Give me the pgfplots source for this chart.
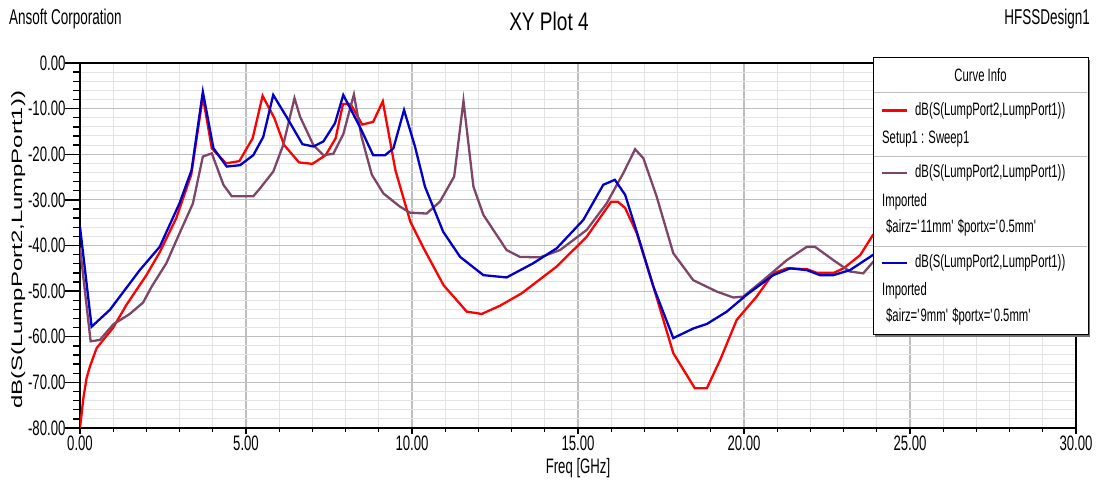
\documentclass[border=0pt]{standalone}
\usepackage{fontspec}
\setmainfont{Liberation Sans}[FakeStretch=0.63]
\newfontfamily\titlefont{Liberation Sans}[FakeStretch=0.75]
\newfontfamily\plainfont{Liberation Sans}
\usepackage{graphicx}
\usepackage{pgfplots}
\pgfplotsset{compat=1.18}
\definecolor{hfssred}{RGB}{255,0,0}
\definecolor{hfssblue}{RGB}{0,0,200}
\definecolor{hfssmauve}{RGB}{125,70,105}
\definecolor{majgrid}{RGB}{190,190,190}
\definecolor{mingrid}{RGB}{228,228,228}
\pgfplotsset{hfssframe/.style={
  at={(80bp,55bp)}, anchor=south west,
  scale only axis, width=996bp, height=365bp,
  xmin=0, xmax=30, ymin=-80, ymax=0,
  xtick={0,5,...,30}, ytick={-80,-70,...,0},
  minor x tick num=4, minor y tick num=4,
  tick align=outside, xtick pos=lower, ytick pos=left}}

\begin{document}
\begin{tikzpicture}[x=1bp,y=1bp]
\useasboundingbox (0,0) rectangle (1097,483);
\begin{axis}[
  hfssframe,
  grid=both,
  major grid style={draw=majgrid, line width=1.2bp},
  minor grid style={draw=mingrid, line width=1bp},
  axis line style={black, line width=2bp},
  tick style={black, line width=1.3bp},
  ytick style={draw=none},
  major tick length=6bp, minor tick length=4bp,
  /pgf/number format/.cd, fixed, fixed zerofill, precision=2, assume math mode=true,
  /pgfplots/.cd,
  tick label style={font=\fontsize{21}{22}\selectfont},
  yticklabel style={xshift=-5bp},
  xticklabel style={yshift=2bp},
  xlabel={Freq [GHz]},
  ylabel={\resizebox*{318bp}{14bp}{\plainfont dB(S(LumpPort2,LumpPort1))}},
  xlabel style={font=\fontsize{21}{22}\selectfont, at={(axis description cs:0.5,-0.11)}, anchor=center},
  ylabel style={at={(axis description cs:-0.062,0.488)}, anchor=center},
]
% Setup1 : Sweep1
\addplot[hfssred, line width=2.3bp] coordinates {
 (0,-80) (0.1,-73.5) (0.2,-69) (0.3,-66.5) (0.5,-62.5) (1.0,-58) (1.4,-53)
 (2.0,-46.5) (2.4,-41.5) (2.9,-34) (3.35,-24.5) (3.7,-7.4) (3.97,-18.7) (4.4,-22)
 (4.8,-21.5) (5.2,-16.5) (5.5,-7.2) (5.85,-12) (6.15,-18) (6.6,-21.8) (7.0,-22.1)
 (7.4,-20.2) (7.7,-16.5) (7.92,-9) (8.15,-9) (8.5,-13.5) (8.83,-12.9) (9.12,-8.4)
 (9.5,-23.5) (9.95,-34.8) (10.35,-40.6) (10.95,-48.7) (11.65,-54.5) (12.1,-55)
 (12.65,-53.2) (13.3,-50.5) (14.36,-44.6) (15.26,-38.1) (15.76,-32.9) (16.0,-30.4)
 (16.2,-30.4) (16.42,-31.8) (16.77,-37.3) (17.27,-49) (17.87,-63.6) (18.52,-71.3)
 (18.88,-71.3) (19.28,-65.1) (19.78,-56.3) (20.38,-51.2) (20.88,-46.1) (21.3,-45)
 (21.9,-45.2) (22.2,-46) (22.7,-46) (23.0,-45) (23.5,-42.1) (23.9,-37.5)};
% Imported airz=11mm
\addplot[hfssmauve, line width=2.3bp] coordinates {
 (0,-40.5) (0.32,-61) (0.6,-60.7) (1.0,-57.3) (1.5,-55) (1.9,-52.5) (2.16,-49)
 (2.6,-43.9) (3.0,-37.3) (3.4,-30.8) (3.7,-20.5) (3.97,-19.8) (4.32,-26.7)
 (4.57,-29.2) (5.22,-29.2) (5.42,-27.5) (5.82,-23.8) (6.12,-18) (6.46,-7.7)
 (6.63,-11.8) (7.03,-18) (7.33,-20.2) (7.63,-19.9) (7.93,-15.6) (8.25,-6.9)
 (8.48,-16.2) (8.79,-24.5) (9.14,-28.6) (9.64,-31.5) (9.94,-32.8) (10.44,-33)
 (10.84,-30.4) (11.27,-24.9) (11.55,-8.3) (11.85,-27.1) (12.15,-33.3) (12.85,-41)
 (13.25,-42.5) (13.86,-42.6) (14.46,-41) (15.26,-36.6) (15.86,-30.8) (16.36,-24.2)
 (16.72,-18.9) (16.97,-20.9) (17.37,-29.3) (17.87,-41.7) (18.47,-47.6) (19.18,-50.1)
 (19.68,-51.4) (19.98,-51.2) (20.58,-47.6) (21.29,-43.2) (21.89,-40.3) (22.14,-40.3)
 (22.69,-43.2) (23.19,-45.7) (23.59,-46.1) (23.9,-43.5)};
% Imported airz=9mm
\addplot[hfssblue, line width=2.3bp] coordinates {
 (0,-35.9) (0.35,-57.8) (0.9,-54.1) (1.8,-45.4) (2.4,-40.3) (3.0,-30.7) (3.36,-23.5)
 (3.7,-6.3) (4.02,-18.7) (4.42,-22.7) (4.82,-22.4) (5.22,-20.2) (5.52,-16.2)
 (5.82,-7.0) (6.22,-11.8) (6.7,-17.8) (7.03,-18.3) (7.33,-17.2) (7.68,-13.2)
 (7.93,-7.0) (8.43,-14.0) (8.83,-20.2) (9.19,-20.2) (9.44,-18.7) (9.76,-10.3)
 (10.09,-18.3) (10.39,-27.1) (10.94,-37) (11.45,-42.5) (12.15,-46.5) (12.85,-47)
 (13.65,-43.9) (14.36,-40.6) (15.16,-34.4) (15.76,-26.7) (16.11,-25.6) (16.42,-28.9)
 (16.77,-37) (17.27,-49) (17.87,-60.3) (18.47,-58.2) (18.88,-57.2) (19.48,-54.5)
 (20.08,-50.8) (20.88,-46.5) (21.39,-45) (21.89,-45.4) (22.29,-46.5) (22.69,-46.5)
 (23.19,-45.4) (23.9,-42)};
\end{axis}
% long ruler ticks of the y axis
\begin{axis}[
  hfssframe, hide x axis,
  axis line style={draw=none},
  tick style={black, line width=1.3bp},
  major tick length=15bp, minor tick length=7bp,
  yticklabels={},
]
\end{axis}
% header texts
\node[anchor=west, inner sep=0, font=\fontsize{21.5}{22}\selectfont] at (9,464) {Ansoft Corporation};
\node[anchor=east, inner sep=0, font=\fontsize{21.5}{22}\selectfont] at (1090,464) {HFSSDesign1};
\node[inner sep=0, font=\titlefont\fontsize{25.5}{28}\selectfont] at (549,462) {XY Plot 4};
% curve info box
\fill[black!55] (875,146) rectangle (1090,423);
\draw[fill=white, line width=1bp] (873,148) rectangle (1088,425);
\foreach \yy in {390.3,326.3,236.3}
  \draw[black!25, line width=1.5bp] (874,\yy) -- (1087,\yy);
\begin{scope}[every node/.style={inner sep=0, font=\fontsize{18}{20}\selectfont}]
\node at (980.5,408) {Curve Info};
\draw[hfssred, line width=2.5bp] (882,372.3) -- (907,372.3);
\node[anchor=west] at (915,372.3) {dB(S(LumpPort2,LumpPort1))};
\node[anchor=west] at (882,344) {Setup1 : Sweep1};
\draw[hfssmauve, line width=2.5bp] (882,310) -- (907,310);
\node[anchor=west] at (915,310) {dB(S(LumpPort2,LumpPort1))};
\node[anchor=west] at (882,281.3) {Imported};
\node[anchor=west] at (886,255) {\$airz=\textquotesingle 11mm\textquotesingle\ \$portx=\textquotesingle 0.5mm\textquotesingle};
\draw[hfssblue, line width=2.5bp] (882,220) -- (907,220);
\node[anchor=west] at (915,220) {dB(S(LumpPort2,LumpPort1))};
\node[anchor=west] at (882,192.3) {Imported};
\node[anchor=west] at (886,166.3) {\$airz=\textquotesingle 9mm\textquotesingle\ \$portx=\textquotesingle 0.5mm\textquotesingle};
\end{scope}
\end{tikzpicture}
\end{document}
